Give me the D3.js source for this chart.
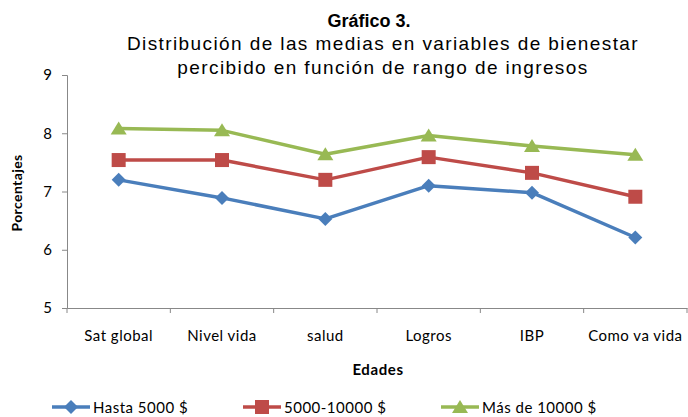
<!DOCTYPE html>
<html><head><meta charset="utf-8">
<script src="https://cdn.jsdelivr.net/npm/d3@7"></script>
<style>body{margin:0;background:#fff}svg{display:block}</style>
</head><body><div id="c"></div>
<script>
const categories = ["Sat global","Nivel vida","salud","Logros","IBP","Como va vida"];
const hasta5000 = [7.2, 6.89, 6.53, 7.1, 6.98, 6.21];
const de5000a10000 = [7.54, 7.54, 7.2, 7.59, 7.32, 6.91];
const mas10000 = [8.08, 8.05, 7.64, 7.96, 7.78, 7.63];
const seriesNames = ["Hasta 5000 $","5000-10000 $","Más de 10000 $"];
const yTicks = [5,6,7,8,9];

const W=688,H=417;
const svg=d3.select("#c").append("svg").attr("width",W).attr("height",H);
const lab="Lato, 'Open Sans', sans-serif";
const x=d3.scaleBand().domain(categories).range([67,687]);
const y=d3.scaleLinear().domain([5,9]).range([308,75]);
const axisCol="#888";

// title
const tf="'Liberation Sans', Arial, sans-serif";
svg.append("text").attr("x",369).attr("y",27).attr("text-anchor","middle").attr("font-family",tf).attr("font-weight","bold").attr("font-size",18).text("Gráfico 3.");
svg.append("text").attr("x",383).attr("y",50).attr("text-anchor","middle").attr("font-family",tf).attr("font-size",19).attr("letter-spacing",1.4).text("Distribución de las medias en variables de bienestar");
svg.append("text").attr("x",383).attr("y",74).attr("text-anchor","middle").attr("font-family",tf).attr("font-size",19).attr("letter-spacing",1.4).text("percibido en función de rango de ingresos");

// y axis
const ya=svg.append("g").attr("transform","translate(67,0)").call(d3.axisLeft(y).tickValues(yTicks).tickFormat(d3.format("d")).tickSize(5).tickPadding(10));
ya.select(".domain").attr("stroke",axisCol);
ya.selectAll(".tick line").attr("stroke",axisCol);
ya.selectAll("text").attr("font-family",lab).attr("font-size",15).attr("fill","#000");
// x axis
const xa=svg.append("g").attr("transform","translate(0,308)").call(d3.axisBottom(x).tickSize(0).tickPadding(22));
xa.select(".domain").attr("stroke",axisCol);
xa.selectAll("text").attr("font-family",lab).attr("font-size",15).attr("letter-spacing",0.5).attr("fill","#000");
const edges=categories.map(c=>x(c)).concat([x.range()[1]]);
svg.append("g").selectAll("line").data(edges).join("line")
 .attr("x1",d=>d).attr("x2",d=>d).attr("y1",308).attr("y2",313).attr("stroke",axisCol);

svg.append("text").attr("transform","translate(22,193) rotate(-90)").attr("text-anchor","middle").attr("font-family",lab).attr("font-weight","bold").attr("font-size",14).attr("letter-spacing",0.4).text("Porcentajes");
svg.append("text").attr("x",378).attr("y",375).attr("text-anchor","middle").attr("font-family",lab).attr("font-weight","bold").attr("font-size",15).attr("letter-spacing",0.6).text("Edades");

const colors=["#4a7ebb","#be4b48","#98b954"];
const data=[hasta5000,de5000a10000,mas10000];
const cx=c=>x(c)+x.bandwidth()/2;
const line=d3.line().x((d,i)=>cx(categories[i])).y(d=>y(d));
function marker(g,k,px,py){
  if(k===0) g.append("path").attr("d",`M${px},${py-7}L${px+7},${py}L${px},${py+7}L${px-7},${py}Z`).attr("fill",colors[0]);
  else if(k===1) g.append("rect").attr("x",px-7).attr("y",py-7).attr("width",14).attr("height",14).attr("fill",colors[1]);
  else g.append("path").attr("d",`M${px},${py-7}L${px+8},${py+6}L${px-8},${py+6}Z`).attr("fill",colors[2]);
}
data.forEach((s,k)=>{
  svg.append("path").datum(s).attr("d",line).attr("fill","none").attr("stroke",colors[k]).attr("stroke-width",3.5).attr("stroke-linejoin","round");
  const g=svg.append("g");
  s.forEach((v,i)=>marker(g,k,cx(categories[i]),y(v)));
});

// legend
const lx=[52,243,441];
seriesNames.forEach((n,k)=>{
  const g=svg.append("g");
  const ly=407;
  g.append("line").attr("x1",lx[k]).attr("x2",lx[k]+38).attr("y1",ly).attr("y2",ly).attr("stroke",colors[k]).attr("stroke-width",3.5);
  marker(g,k,lx[k]+19,ly);
  g.append("text").attr("x",lx[k]+41).attr("y",ly+6).attr("font-family",lab).attr("font-size",15).attr("letter-spacing",0.5).text(n);
});
</script></body></html>
